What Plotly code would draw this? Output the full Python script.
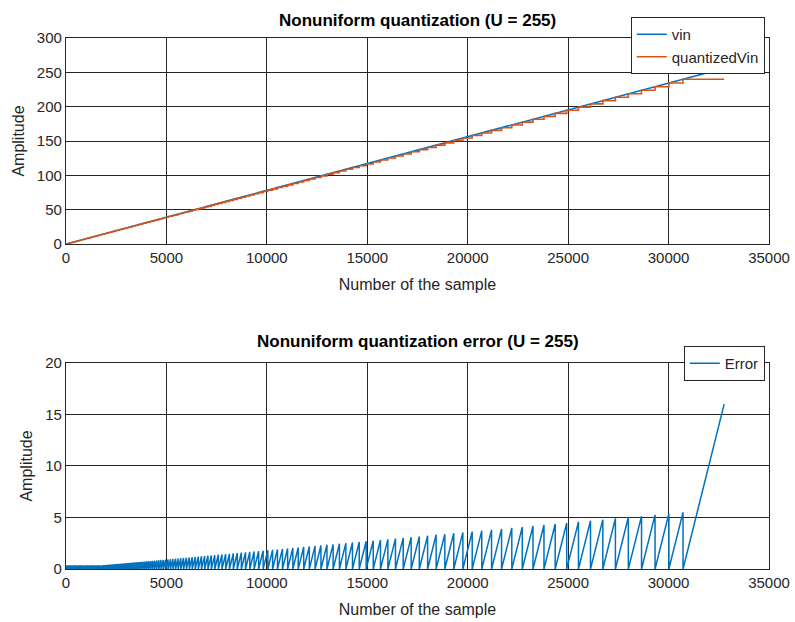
import plotly.graph_objects as go

# ---------------- data ----------------
# input ramp (vin): sample index vs amplitude
vin_x = [0, 32767]
vin_y = [0, 256]

# sample indices where the quantized signal steps up
step_x = [
    45, 90, 135, 180, 225, 270, 315, 360, 405, 450, 495, 540, 585, 630, 675,
    720, 765, 810, 855, 900, 945, 990, 1035, 1080, 1125, 1170, 1215, 1260,
    1305, 1350, 1395, 1440, 1485, 1530, 1575, 1620, 1665, 1710, 1755, 1800,
    1845, 1891, 1938, 1987, 2036, 2087, 2139, 2191, 2246, 2301, 2358, 2416,
    2476, 2536, 2599, 2662, 2728, 2794, 2863, 2932, 3004, 3077, 3152, 3229,
    3307, 3388, 3470, 3554, 3640, 3728, 3818, 3910, 4005, 4101, 4200, 4301,
    4405, 4511, 4619, 4730, 4844, 4960, 5079, 5201, 5325, 5453, 5583, 5717,
    5853, 5993, 6136, 6282, 6432, 6586, 6743, 6903, 7068, 7236, 7408, 7584,
    7764, 7949, 8137, 8331, 8528, 8731, 8938, 9150, 9367, 9589, 9816, 10048,
    10286, 10529, 10778, 11033, 11294, 11561, 11834, 12114, 12400, 12693,
    12993, 13299, 13613, 13934, 14263, 14599, 14944, 15296, 15657, 16025,
    16403, 16789, 17185, 17590, 18004, 18428, 18861, 19305, 19759, 20224,
    20700, 21187, 21685, 22195, 22716, 23250, 23797, 24356, 24928, 25514,
    26113, 26727, 27354, 27997, 28654, 29327, 30015, 30720,
]

# quantized level reached at each of those steps
step_level = [
    0.35, 0.70, 1.05, 1.41, 1.76, 2.11, 2.46, 2.81, 3.16, 3.52, 3.87, 4.22,
    4.57, 4.92, 5.27, 5.63, 5.98, 6.33, 6.68, 7.03, 7.38, 7.73, 8.09, 8.44,
    8.79, 9.14, 9.49, 9.84, 10.20, 10.55, 10.90, 11.25, 11.60, 11.95, 12.30,
    12.66, 13.01, 13.36, 13.71, 14.06,
    14.42, 14.78, 15.14, 15.52, 15.91, 16.30, 16.71, 17.12, 17.54, 17.98,
    18.42, 18.88, 19.34, 19.82, 20.30, 20.80, 21.31, 21.83, 22.36, 22.91,
    23.47, 24.04, 24.63, 25.23, 25.84, 26.47, 27.11, 27.77, 28.44, 29.13,
    29.83, 30.55, 31.29, 32.04, 32.81, 33.60, 34.41, 35.24, 36.09, 36.96,
    37.84, 38.75, 39.68, 40.63, 41.60, 42.60, 43.62, 44.66, 45.73, 46.82,
    47.94, 49.08, 50.25, 51.45, 52.68, 53.93, 55.22, 56.53, 57.87, 59.25,
    60.66, 62.10, 63.57, 65.08, 66.63, 68.21, 69.83, 71.48, 73.18, 74.91,
    76.69, 78.50, 80.36, 82.26, 84.21, 86.20, 88.24, 90.32, 92.46, 94.64,
    96.88, 99.16, 101.51, 103.90, 106.35, 108.86, 111.43, 114.06, 116.75,
    119.50, 122.32, 125.20, 128.15, 131.17, 134.26, 137.42, 140.65, 143.97,
    147.35, 150.82, 154.37, 158.00, 161.72, 165.52, 169.41, 173.40, 177.47,
    181.64, 185.91, 190.28, 194.75, 199.33, 204.01, 208.80, 213.71, 218.73,
    223.86, 229.12, 234.50, 240.00,
]

x_ticks = [0, 5000, 10000, 15000, 20000, 25000, 30000, 35000]
x_tick_text = ["0", "5000", "10000", "15000", "20000", "25000", "30000", "35000"]
y_ticks_top = [0, 50, 100, 150, 200, 250, 300]
y_ticks_bot = [0, 5, 10, 15, 20]

# ---------------- build the staircase & error sawtooth ----------------
q_x, q_y = [vin_x[0]], [0]
prev = 0
for sx, lv in zip(step_x, step_level):
    q_x += [sx, sx]
    q_y += [prev, lv]
    prev = lv
q_x.append(vin_x[-1])
q_y.append(prev)

e_x, e_y = [vin_x[0]], [0]
prev = 0
for sx, lv in zip(step_x, step_level):
    e_x += [sx, sx]
    e_y += [lv - prev, 0]
    prev = lv
e_x.append(vin_x[-1])
e_y.append(vin_y[-1] - prev)

BLUE = "#0072BD"
ORANGE = "#D95319"
DARK = "#262626"
FONT = "Liberation Sans, Arial, sans-serif"

fig = go.Figure()
fig.add_trace(go.Scatter(x=vin_x, y=vin_y, mode="lines", name="vin",
                         line=dict(color=BLUE, width=1.6),
                         xaxis="x", yaxis="y", legend="legend"))
fig.add_trace(go.Scatter(x=q_x, y=q_y, mode="lines", name="quantizedVin",
                         line=dict(color=ORANGE, width=1.6),
                         xaxis="x", yaxis="y", legend="legend"))
fig.add_trace(go.Scatter(x=e_x, y=e_y, mode="lines", name="Error",
                         line=dict(color=BLUE, width=1.5),
                         xaxis="x2", yaxis="y2", legend="legend2"))

axis_common = dict(
    showgrid=True, gridcolor=DARK, gridwidth=1.3,
    showline=True, linecolor=DARK, linewidth=1.3, mirror=True,
    zeroline=False, ticks="", automargin=False,
    tickfont=dict(family=FONT, size=15, color=DARK),
)
title_font = dict(family=FONT, size=16, color=DARK)

fig.update_layout(
    width=795, height=622,
    margin=dict(l=66, r=26, t=38, b=53),
    paper_bgcolor="white", plot_bgcolor="white",
    font=dict(family=FONT, color=DARK),
    xaxis=dict(domain=[0, 1], range=[0, 35000], tickvals=x_ticks,
               ticktext=x_tick_text, anchor="y",
               title=dict(text="Number of the sample", font=title_font,
                          standoff=13),
               **axis_common),
    yaxis=dict(domain=[0.612, 1], range=[0, 300], tickvals=y_ticks_top,
               anchor="x",
               title=dict(text="Amplitude", font=title_font, standoff=8),
               **axis_common),
    xaxis2=dict(domain=[0, 1], range=[0, 35000], tickvals=x_ticks,
                ticktext=x_tick_text, anchor="y2",
                title=dict(text="Number of the sample", font=title_font,
                           standoff=13),
                **axis_common),
    yaxis2=dict(domain=[0, 0.388], range=[0, 20], tickvals=y_ticks_bot,
                anchor="x2",
                title=dict(text="Amplitude", font=title_font, standoff=8),
                **axis_common),
    legend=dict(x=0.994, y=1.0395, xanchor="right", yanchor="top",
                bgcolor="white", bordercolor=DARK, borderwidth=1,
                font=dict(family=FONT, size=15, color=DARK),
                tracegroupgap=0),
    legend2=dict(x=0.994, y=0.42, xanchor="right", yanchor="top",
                 bgcolor="white", bordercolor=DARK, borderwidth=1,
                 font=dict(family=FONT, size=15, color=DARK)),
    annotations=[
        dict(text="<b>Nonuniform quantization (U = 255)</b>",
             x=0.5, y=1.0328, xref="paper", yref="paper",
             xanchor="center", yanchor="middle", showarrow=False,
             font=dict(family=FONT, size=17, color="black")),
        dict(text="<b>Nonuniform quantization error (U = 255)</b>",
             x=0.5, y=0.4275, xref="paper", yref="paper",
             xanchor="center", yanchor="middle", showarrow=False,
             font=dict(family=FONT, size=17, color="black")),
    ],
)

fig.write_html("out.html")
